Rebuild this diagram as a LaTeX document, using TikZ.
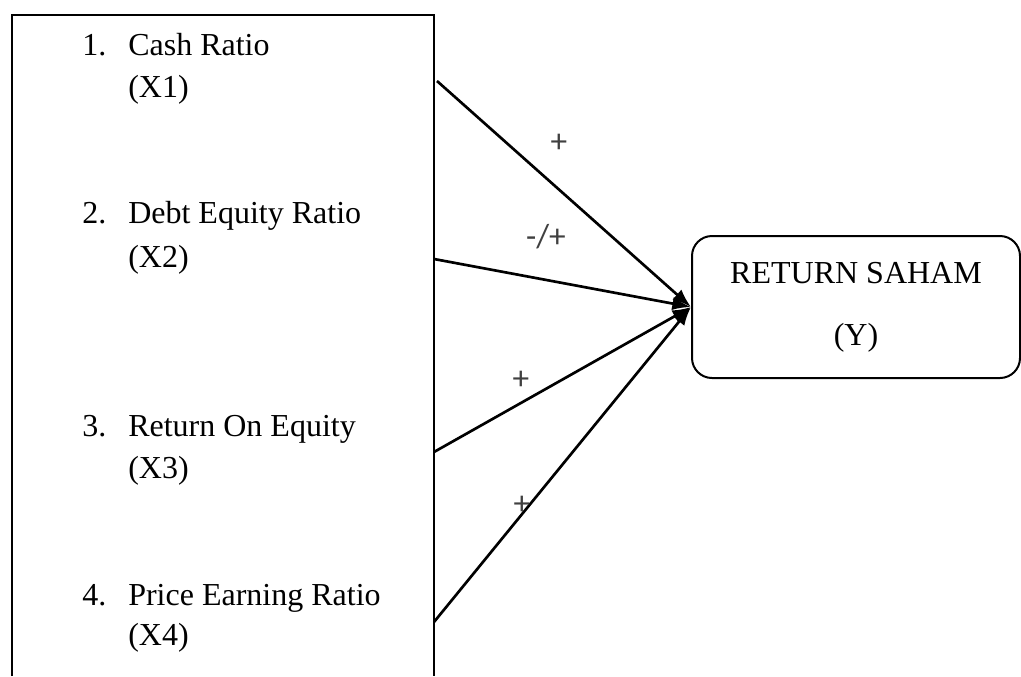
\documentclass[tikz,border=0pt]{standalone}
\usepackage{fontspec}
\setmainfont{Liberation Serif}
\newfontfamily\signfont{Carlito}
\usetikzlibrary{arrows.meta}

\tikzset{
  item/.style={anchor=base west,inner sep=0pt,font=\fontsize{24}{29}\selectfont},
  sign/.style={inner sep=0pt,text=black!75,font=\signfont\fontsize{25}{29}\selectfont},
  link/.style={line width=2pt,-{Latex[length=14pt,width=10pt]}}
}

\begin{document}
\begin{tikzpicture}[x=0.75pt,y=-0.75pt]
\useasboundingbox (0,0) rectangle (1021,676);
% variabel box, cut at the bottom
\draw[line width=1.5pt] (12,676)--(12,15)--(434,15)--(434,676);
\node[item] (n1) at (82,55) {1.};
\node[item] (v1) at (128,55) {Cash Ratio};
\node[item] (x1) at (128,97) {(X1)};
\node[item] (n2) at (82,223) {2.};
\node[item] (v2) at (128,223) {Debt Equity Ratio};
\node[item] (x2) at (128,267) {(X2)};
\node[item] (n3) at (82,436) {3.};
\node[item] (v3) at (128,436) {Return On Equity};
\node[item] (x3) at (128,478) {(X3)};
\node[item] (n4) at (82,605) {4.};
\node[item] (v4) at (128,605) {Price Earning Ratio};
\node[item] (x4) at (128,645) {(X4)};
% return saham
\node[draw,line width=1.5pt,rounded corners=15pt,minimum width=246pt,minimum height=106.5pt,
      align=center,font=\fontsize{24}{46.5}\selectfont] (ret) at (856,307) {RETURN SAHAM\\(Y)};
\coordinate (s1) at (437,81);
\coordinate (s2) at (434,259);
\coordinate (s3) at (434,452);
\coordinate (s4) at (434,622);
\draw[link] (s1)--(ret.west);
\draw[link] (s2)--(ret.west);
\draw[link] (s3)--(ret.west);
\draw[link] (s4)--(ret.west);
\node[sign] (p1) at (559,143) {+};
\node[sign] (p2) at (546,237) {-/+};
\node[sign] (p3) at (521,380) {+};
\node[sign] (p4) at (522,505) {+};
\end{tikzpicture}
\end{document}
